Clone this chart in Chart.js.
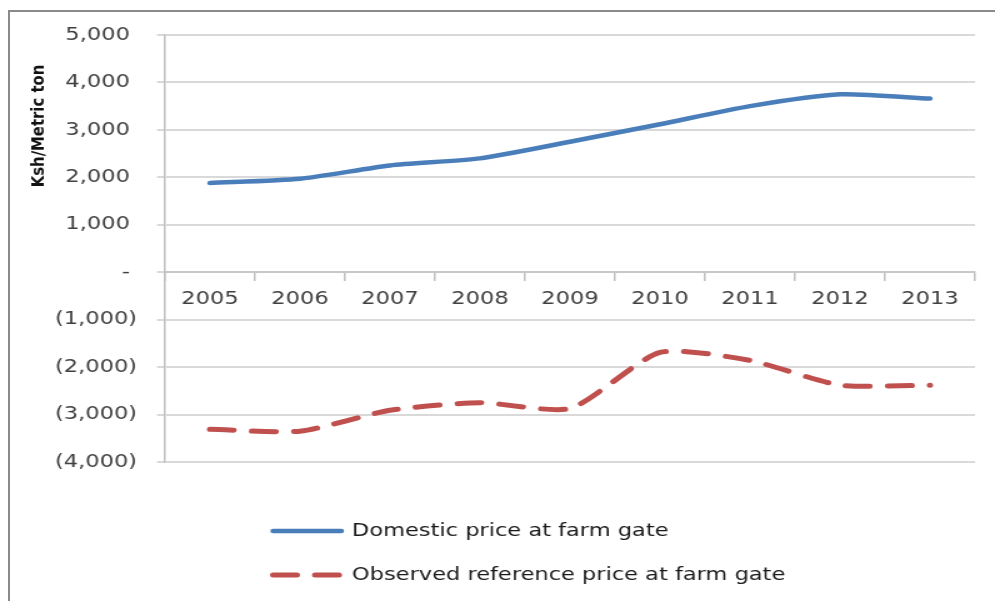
<!DOCTYPE html>
<html>
<head>
<meta charset="utf-8">
<title>Domestic and observed reference price at farm gate</title>
<script src="https://cdn.jsdelivr.net/npm/chart.js@4.4.1/dist/chart.umd.min.js"></script>
<style>
  html, body { margin: 0; padding: 0; background: #fff; overflow: hidden; }
  /* grey outer frame, runs off the right and bottom edges */
  #frame { position: absolute; left: 8px; top: 10px; width: 1010px; height: 620px; border: 2px solid #8a8a8a; box-sizing: border-box; }
  /* the chart is drawn narrow and widened, which gives the stretched lettering */
  #wrap { position: absolute; left: 0; top: 0; width: 796px; height: 601px; transform: scaleX(1.25); transform-origin: 0 0; }
</style>
</head>
<body>
<div id="frame"></div>
<div id="wrap"><canvas id="priceChart"></canvas></div>
<script>
// Ksh per metric ton, 2005-2013
const years = ['2005', '2006', '2007', '2008', '2009', '2010', '2011', '2012', '2013'];
const domesticPrice = [1880, 1970, 2250, 2400, 2750, 3120, 3500, 3750, 3660];
const referencePrice = [-3310, -3350, -2910, -2750, -2870, -1690, -1860, -2380, -2380];
const seriesNames = ['Domestic price at farm gate', 'Observed reference price at farm gate'];
const yMin = -4000, yMax = 5000, yStep = 1000;
const yTitle = 'Ksh/Metric ton';

const FONT = 'DejaVu Sans';
const TEXT_GREY = '#404040';

// accounting style: 5,000   (1,000)   -
function accounting(v) {
    if (v === 0) return '- ';
    const s = Math.abs(v).toLocaleString('en-US');
    return v < 0 ? '(' + s + ')' : s + ' ';
}

// rotated axis title, sits against the positive half of the axis
const axisTitle = {
    id: 'axisTitle',
    afterDraw(chart) {
        const { ctx, chartArea } = chart;
        ctx.save();
        ctx.translate(31, chartArea.top + 91);
        ctx.rotate(-Math.PI / 2);
        ctx.scale(1.1, 1);   // a little longer, the canvas is widened only sideways
        ctx.font = `bold 13.5px "${FONT}"`;
        ctx.fillStyle = '#111';
        ctx.textAlign = 'center';
        ctx.textBaseline = 'middle';
        ctx.fillText(yTitle, 0, 0);
        ctx.restore();
    }
};

// legend stacked one entry per row under the plot
const stackedLegend = {
    id: 'stackedLegend',
    afterDraw(chart) {
        const ctx = chart.ctx;
        chart.data.datasets.forEach((ds, i) => {
            const y = 531 + i * 44;
            ctx.save();
            ctx.strokeStyle = ds.borderColor;
            ctx.lineWidth = ds.borderWidth;
            ctx.lineCap = 'round';
            ctx.setLineDash(ds.borderDash || []);
            ctx.beginPath();
            ctx.moveTo(218.5, y);
            ctx.lineTo(273, y);
            ctx.stroke();
            ctx.setLineDash([]);
            ctx.font = `18px "${FONT}"`;
            ctx.fillStyle = '#1a1a1a';
            ctx.textAlign = 'left';
            ctx.textBaseline = 'middle';
            ctx.fillText(ds.label, 281.6, y);
            ctx.restore();
        });
    }
};

new Chart(document.getElementById('priceChart'), {
    type: 'line',
    data: {
        labels: years,
        datasets: [
            { label: seriesNames[0], data: domesticPrice, borderColor: '#4a7ebb', borderWidth: 4.5, borderCapStyle: 'round', tension: 0.22, pointRadius: 0, fill: false },
            { label: seriesNames[1], data: referencePrice, borderColor: '#c0504d', borderWidth: 5, borderDash: [19, 14.6], borderCapStyle: 'round', tension: 0.22, pointRadius: 0, fill: false }
        ]
    },
    options: {
        responsive: true,
        maintainAspectRatio: false,
        animation: false,
        layout: { padding: { top: 35, right: 16, bottom: 139, left: 0 } },
        plugins: { legend: { display: false }, tooltip: { enabled: false } },
        scales: {
            x: {
                position: { y: 0 },
                offset: true,
                grid: { offset: true, drawOnChartArea: false, drawTicks: true, tickLength: 8, color: '#bfbfbf', lineWidth: 1.5 },
                border: { display: true, color: '#c8c8c8', width: 2 },
                ticks: { font: { family: FONT, size: 18 }, color: TEXT_GREY, padding: 8, maxRotation: 0, autoSkip: false }
            },
            y: {
                min: yMin,
                max: yMax,
                afterFit(scale) { scale.width = 132; },
                grid: { color: '#d9d9d9', lineWidth: 2, drawTicks: true, tickLength: 6.4 },
                border: { display: true, color: '#bfbfbf', width: 1.5 },
                ticks: { stepSize: yStep, callback: accounting, font: { family: FONT, size: 18 }, color: TEXT_GREY, padding: 16 }
            }
        }
    },
    plugins: [axisTitle, stackedLegend]
});
</script>
</body>
</html>
